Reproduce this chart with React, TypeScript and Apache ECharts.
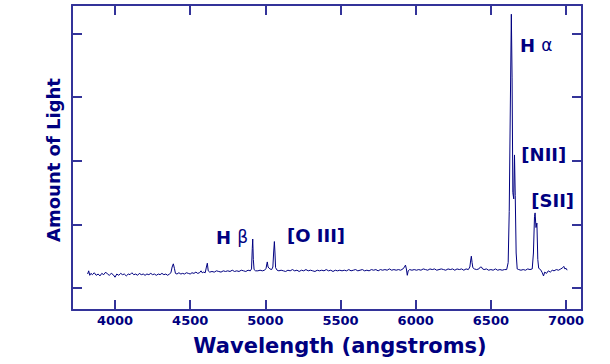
import React, { useEffect, useRef } from "react";
import * as echarts from "echarts";

const wavelengths = [
  3818, 3825, 3832, 3840, 3850, 3862, 3875, 3888, 3900, 3912, 3925, 3938, 3950, 3962, 3975, 3988,
  4000, 4012, 4025, 4038, 4050, 4062, 4075, 4088, 4100, 4112, 4125, 4138, 4150, 4162, 4175, 4188,
  4200, 4212, 4225, 4238, 4250, 4262, 4275, 4288, 4300, 4312, 4325, 4338, 4350, 4362, 4372, 4380,
  4388, 4395, 4402, 4412, 4425, 4438, 4450, 4462, 4475, 4488, 4500, 4512, 4525, 4538, 4550, 4562,
  4572, 4580, 4590, 4600, 4608, 4614, 4620, 4630, 4645, 4660, 4675, 4690, 4705, 4720, 4735, 4750,
  4765, 4780, 4795, 4810, 4825, 4840, 4855, 4870, 4885, 4900, 4908, 4913, 4916, 4920, 4925, 4935,
  4950, 4965, 4980, 4995, 5005, 5010, 5013, 5018, 5030, 5042, 5050, 5055, 5060, 5064, 5068, 5078,
  5090, 5105, 5120, 5135, 5150, 5165, 5180, 5195, 5210, 5225, 5240, 5255, 5270, 5285, 5300, 5315,
  5330, 5345, 5360, 5375, 5390, 5405, 5420, 5435, 5450, 5465, 5480, 5495, 5510, 5525, 5540, 5555,
  5570, 5585, 5600, 5615, 5630, 5645, 5660, 5675, 5690, 5705, 5720, 5735, 5750, 5765, 5780, 5795,
  5810, 5825, 5840, 5855, 5870, 5885, 5900, 5915, 5925, 5932, 5938, 5944, 5950, 5960, 5975, 5990,
  6005, 6020, 6035, 6050, 6065, 6080, 6095, 6110, 6125, 6140, 6155, 6170, 6185, 6200, 6215, 6230,
  6245, 6260, 6275, 6290, 6305, 6320, 6335, 6350, 6360, 6366, 6370, 6375, 6380, 6390, 6405, 6420,
  6430, 6437, 6445, 6455, 6470, 6485, 6500, 6515, 6530, 6545, 6560, 6575, 6590, 6605, 6615, 6622,
  6630, 6636, 6641, 6646, 6652, 6657, 6662, 6668, 6675, 6685, 6700, 6715, 6730, 6745, 6760, 6775,
  6783, 6790, 6794, 6800, 6806, 6812, 6818, 6830, 6842, 6850, 6858, 6870, 6882, 6895, 6908, 6920,
  6935, 6950, 6965, 6978, 6985, 6992, 7000, 7007,
];

const amounts = [
  0.22, 0.27, 0.2, 0.23, 0.21, 0.24, 0.2, 0.22, 0.19, 0.23, 0.21, 0.25, 0.22, 0.2, 0.23, 0.21,
  0.17, 0.22, 0.2, 0.23, 0.21, 0.22, 0.19, 0.22, 0.21, 0.24, 0.21, 0.22, 0.2, 0.23, 0.21, 0.22,
  0.2, 0.22, 0.21, 0.23, 0.21, 0.22, 0.2, 0.22, 0.21, 0.23, 0.21, 0.22, 0.2, 0.22, 0.24, 0.33,
  0.38, 0.31, 0.23, 0.22, 0.24, 0.22, 0.23, 0.22, 0.24, 0.23, 0.22, 0.24, 0.23, 0.25, 0.23, 0.24,
  0.27, 0.24, 0.25, 0.24, 0.33, 0.39, 0.27, 0.25, 0.26, 0.25, 0.27, 0.26, 0.25, 0.27, 0.26, 0.27,
  0.26, 0.28, 0.26, 0.27, 0.26, 0.28, 0.27, 0.26, 0.28, 0.27, 0.3, 0.62, 0.77, 0.45, 0.29, 0.27,
  0.27, 0.28, 0.27, 0.28, 0.31, 0.38, 0.41, 0.33, 0.3, 0.29, 0.33, 0.55, 0.73, 0.55, 0.32, 0.28,
  0.27, 0.28, 0.27, 0.26, 0.28, 0.27, 0.29, 0.27, 0.28, 0.26, 0.28, 0.27, 0.29, 0.27, 0.28, 0.27,
  0.26, 0.28, 0.27, 0.28, 0.27, 0.29, 0.27, 0.28, 0.26, 0.28, 0.27, 0.28, 0.27, 0.28, 0.27, 0.29,
  0.27, 0.28, 0.29, 0.27, 0.28, 0.29, 0.27, 0.28, 0.27, 0.29, 0.28, 0.29, 0.27, 0.29, 0.28, 0.29,
  0.28, 0.3, 0.28, 0.29, 0.28, 0.29, 0.28, 0.3, 0.33, 0.36, 0.3, 0.2, 0.27, 0.29, 0.28, 0.29,
  0.28, 0.29, 0.28, 0.3, 0.29, 0.28, 0.3, 0.29, 0.3, 0.28, 0.29, 0.3, 0.29, 0.28, 0.3, 0.29,
  0.3, 0.28, 0.3, 0.29, 0.3, 0.28, 0.3, 0.29, 0.33, 0.44, 0.5, 0.4, 0.32, 0.3, 0.29, 0.3,
  0.33, 0.33, 0.3, 0.29, 0.3, 0.28, 0.29, 0.28, 0.3, 0.28, 0.29, 0.28, 0.29, 0.29, 0.4, 1.2,
  3.0, 4.3, 3.3, 1.5, 1.4, 2.09, 1.45, 0.55, 0.3, 0.29, 0.28, 0.29, 0.28, 0.3, 0.29, 0.3,
  0.55, 1.12, 1.18, 0.95, 1.02, 0.45, 0.31, 0.29, 0.24, 0.19, 0.25, 0.23, 0.27, 0.25, 0.28, 0.27,
  0.29, 0.28, 0.3, 0.32, 0.34, 0.3, 0.31, 0.28,
];

const xTicks = [4000, 4500, 5000, 5500, 6000, 6500, 7000];
const yTicks = [0, 1, 2, 3, 4];

const lineNames = ["Hα", "[NII]", "[SII]", "Hβ", "[O III]"];
const lineLabelWl = [6801, 6852, 6911, 4778, 5337];
const lineLabelAmt = [3.81, 2.1, 1.38, 0.8, 0.83];

const X_MIN = 3714;
const X_MAX = 7106;
const Y_MIN = -0.345;
const Y_MAX = 4.445;

const NAVY = "#000080";
const FRAME = "#333399";
const FONT = "DejaVu Sans";

export default function App() {
  const ref = useRef<HTMLDivElement>(null);

  useEffect(() => {
    if (!ref.current) return;
    const chart = echarts.init(ref.current, undefined, { renderer: "svg" });

    const axisLine = { show: true, onZero: false, lineStyle: { color: FRAME, width: 2 } };
    const tick = (vals: number[]) => ({
      show: true,
      inside: true,
      length: 10,
      customValues: vals,
      lineStyle: { color: FRAME, width: 2 },
    });

    const labelData = lineNames.map((n, i) => ({
      value: [lineLabelWl[i], lineLabelAmt[i]],
      name: n,
    }));

    const option: any = {
      animation: false,
      backgroundColor: "#ffffff",
      grid: { left: 72, right: 28, top: 5, bottom: 54, containLabel: false },
      xAxis: [
        {
          type: "value",
          position: "bottom",
          min: X_MIN,
          max: X_MAX,
          axisLine,
          axisTick: tick(xTicks),
          splitLine: { show: false },
          axisLabel: {
            show: true,
            customValues: xTicks,
            formatter: (v: number) => String(v),
            margin: 4,
            color: NAVY,
            fontFamily: FONT,
            fontWeight: "bold",
            fontSize: 13,
          },
        },
        {
          type: "value",
          position: "top",
          min: X_MIN,
          max: X_MAX,
          axisLine,
          axisTick: tick(xTicks),
          splitLine: { show: false },
          axisLabel: { show: false },
        },
      ],
      yAxis: [
        {
          type: "value",
          position: "left",
          min: Y_MIN,
          max: Y_MAX,
          axisLine,
          axisTick: tick(yTicks),
          splitLine: { show: false },
          axisLabel: { show: false },
        },
        {
          type: "value",
          position: "right",
          min: Y_MIN,
          max: Y_MAX,
          axisLine,
          axisTick: tick(yTicks),
          splitLine: { show: false },
          axisLabel: { show: false },
        },
      ],
      series: [
        {
          type: "line",
          data: wavelengths.map((w, i) => [w, amounts[i]]),
          showSymbol: false,
          symbol: "none",
          lineStyle: { color: NAVY, width: 1 },
          silent: true,
        },
        {
          type: "scatter",
          data: labelData,
          symbolSize: 1,
          itemStyle: { color: "rgba(0,0,0,0)" },
          silent: true,
          label: {
            show: true,
            position: "inside",
            color: NAVY,
            opacity: 1,
            textBorderWidth: 0,
            textBorderColor: "transparent",
            fontFamily: FONT,
            fontWeight: "bold",
            fontSize: 18,
            formatter: (p: any) => {
              const n: string = p.name;
              if (n === "Hα") return "{b|H} {g|α}";
              if (n === "Hβ") return "{b|H} {g|β}";
              return "{b|" + n + "}";
            },
            rich: {
              b: {
                color: NAVY,
                fontFamily: FONT,
                fontWeight: "bold",
                fontSize: 18,
                textBorderWidth: 0,
              },
              g: {
                color: NAVY,
                fontFamily: FONT,
                fontWeight: "normal",
                fontSize: 17,
                textBorderWidth: 0,
              },
            },
          },
        },
      ],
      graphic: [
        {
          type: "text",
          x: 340,
          y: 346,
          style: {
            text: "Wavelength (angstroms)",
            fill: NAVY,
            font: `bold 21px ${FONT}`,
            textAlign: "center",
            textVerticalAlign: "middle",
          },
        },
        {
          type: "text",
          x: 53,
          y: 160,
          rotation: Math.PI / 2,
          style: {
            text: "Amount of Light",
            fill: NAVY,
            font: `bold 18px ${FONT}`,
            textAlign: "center",
            textVerticalAlign: "middle",
          },
        },
      ],
    };

    chart.setOption(option);
    return () => chart.dispose();
  }, []);

  return (
    <div
      ref={ref}
      style={{ position: "fixed", left: 0, top: 0, width: 610, height: 364, background: "#fff" }}
    />
  );
}
